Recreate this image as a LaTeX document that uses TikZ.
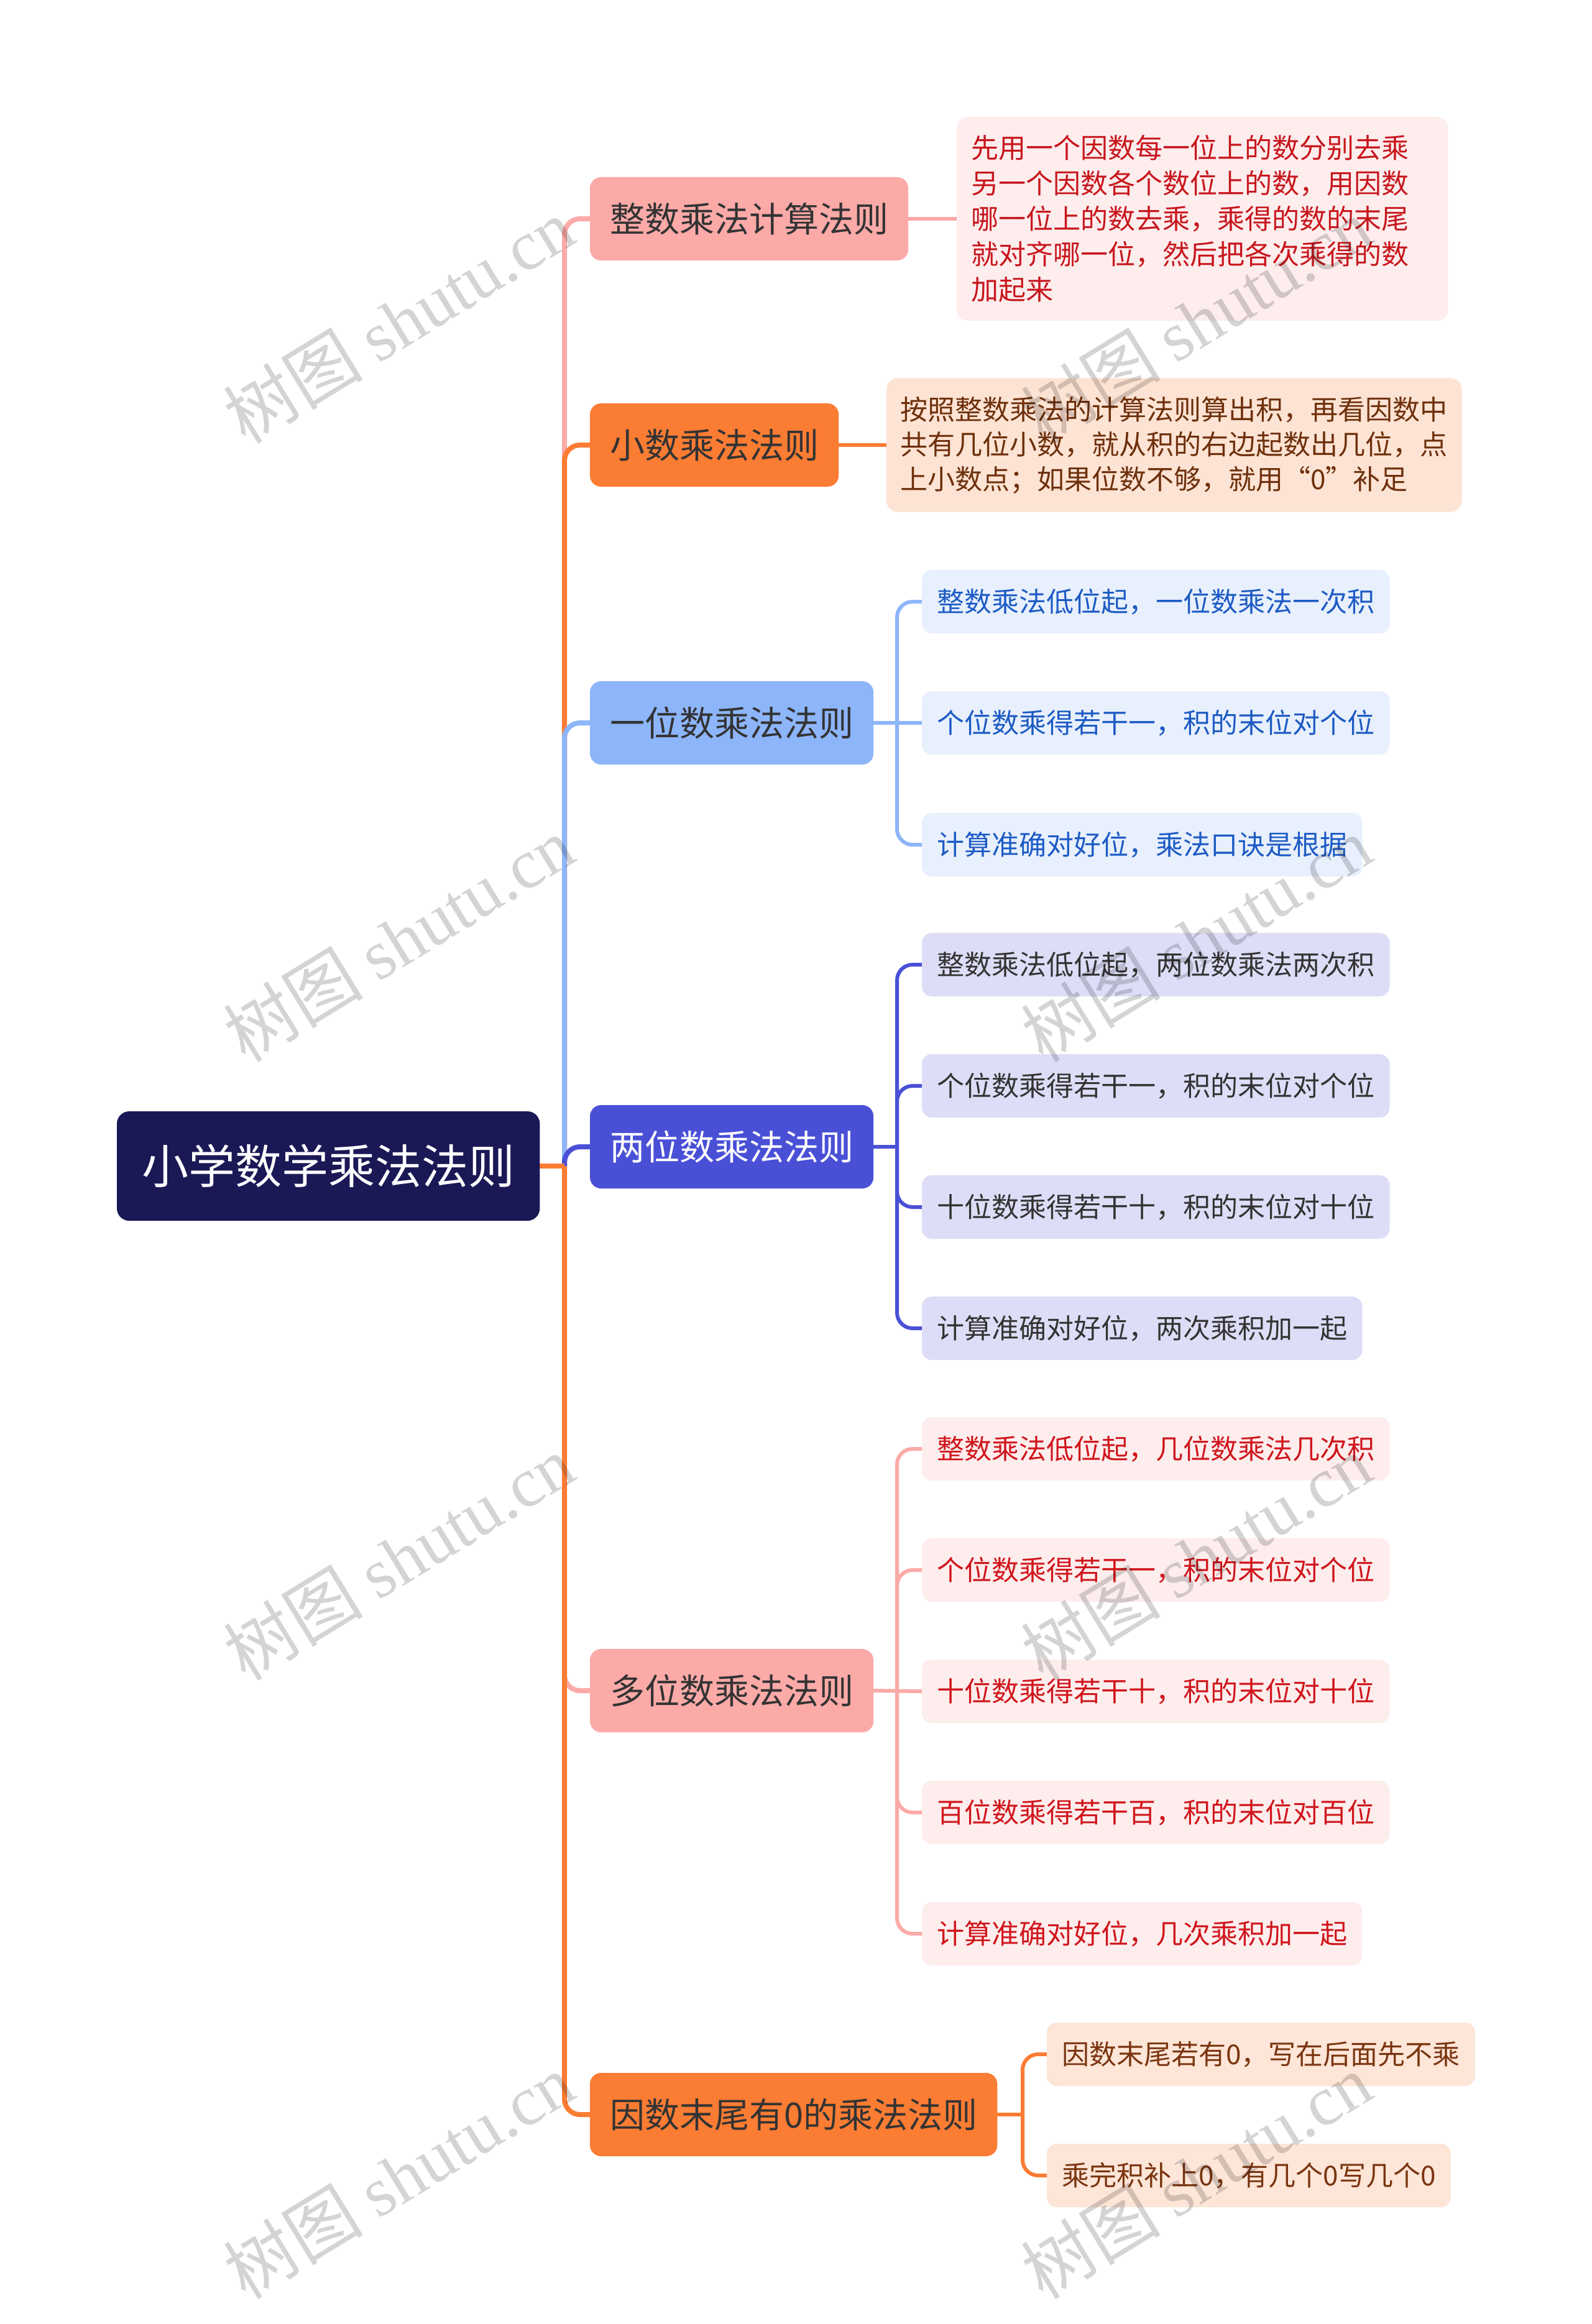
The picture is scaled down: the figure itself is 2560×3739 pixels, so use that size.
\documentclass[tikz,border=0pt]{standalone}
\usepackage{fontspec}
\setmainfont{Noto Sans CJK SC}
\newfontfamily\wmlatin{Liberation Serif}
\usetikzlibrary{backgrounds}
\definecolor{rootc}{HTML}{1B1856}
\definecolor{pinkc}{HTML}{FBAAA8}
\definecolor{orangec}{HTML}{FB7C33}
\definecolor{lbluec}{HTML}{8DB5FA}
\definecolor{indigoc}{HTML}{4A50D6}
\definecolor{darktxt}{HTML}{333333}
\definecolor{bleaffill}{HTML}{E8F0FD}
\definecolor{bleaftxt}{HTML}{1D5BC4}
\definecolor{ileaffill}{HTML}{DDDDF7}
\definecolor{pleaffill}{HTML}{FDEDED}
\definecolor{pleaftxt}{HTML}{D0161C}
\definecolor{oleaffill}{HTML}{FDE5D7}
\definecolor{oleaftxt}{HTML}{7A3510}
\definecolor{tbafill}{HTML}{FDEDED}
\definecolor{tbatxt}{HTML}{C8161D}
\definecolor{tbbfill}{HTML}{FDE3D3}
\definecolor{tbbtxt}{HTML}{6E300C}
\tikzset{
  rootbox/.style={anchor=west, fill=rootc, text=white, rounded corners=0.2cm,
    font=\fontsize{21.34pt}{25pt}\selectfont, minimum height=1.76cm, inner ysep=0pt,
    inner xsep=0.40cm, text height=0.66cm, text depth=0.09cm, outer sep=0pt},
  lonebox/.style={anchor=west, text=darktxt, rounded corners=0.18cm,
    font=\fontsize{15.93pt}{19pt}\selectfont, minimum height=1.34cm, inner ysep=0pt,
    inner xsep=0.32cm, text height=0.493cm, text depth=0.067cm, outer sep=0pt},
  leafbox/.style={anchor=west, rounded corners=0.16cm,
    font=\fontsize{12.52pt}{15pt}\selectfont, minimum height=1.02cm, inner ysep=0pt,
    inner xsep=0.24cm, text height=0.387cm, text depth=0.053cm, outer sep=0pt},
  bleaf/.style={leafbox, fill=bleaffill, text=bleaftxt},
  ileaf/.style={leafbox, fill=ileaffill, text=darktxt},
  pleaf/.style={leafbox, fill=pleaffill, text=pleaftxt},
  oleaf/.style={leafbox, fill=oleaffill, text=oleaftxt},
  textbox/.style={anchor=west, rounded corners=0.18cm, align=left, inner ysep=0pt, outer sep=0pt},
  trunk/.style={line width=0.08cm, rounded corners=0.25cm},
  leafline/.style={line width=0.06cm, rounded corners=0.25cm},
  wmark/.style={rotate=31.5, text=black, text opacity=0.17,
    font=\fontsize{32pt}{32pt}\selectfont, inner sep=0pt}
}
\begin{document}
\begin{tikzpicture}[x=0.01cm,y=-0.01cm]
\useasboundingbox (0,0) rectangle (2560,3739);

% root and level-1 nodes
\node[rootbox] (root) at (188,1876) {小学数学乘法法则};
\node[lonebox, fill=pinkc] (A) at (949,352) {整数乘法计算法则};
\node[lonebox, fill=orangec] (B) at (949,716) {小数乘法法则};
\node[lonebox, fill=lbluec] (C) at (949,1163) {一位数乘法法则};
\node[lonebox, fill=indigoc, text=white] (D) at (949,1845) {两位数乘法法则};
\node[lonebox, fill=pinkc] (E) at (949,2720) {多位数乘法法则};
\node[lonebox, fill=orangec] (F) at (949,3402) {因数末尾有0的乘法法则};

% text boxes
\node[textbox, fill=tbafill, text=tbatxt, inner xsep=0.23cm, text width=7.44cm,
  minimum height=3.28cm, font=\fontsize{12.52pt}{16.22pt}\selectfont] (A1) at (1539,352)
  {先用一个因数每一位上的数分别去乘\\另一个因数各个数位上的数，用因数\\哪一位上的数去乘，乘得的数的末尾\\就对齐哪一位，然后把各次乘得的数\\加起来};
\node[textbox, fill=tbbfill, text=tbbtxt, inner xsep=0.22cm, text width=8.81cm,
  minimum height=2.15cm, font=\fontsize{12.52pt}{15.93pt}\selectfont] (B1) at (1426,716)
  {按照整数乘法的计算法则算出积，再看因数中\\共有几位小数，就从积的右边起数出几位，点\\上小数点；如果位数不够，就用“0”补足};

% leaves
\node[bleaf] (C1) at (1483,968) {整数乘法低位起，一位数乘法一次积};
\node[bleaf] (C2) at (1483,1163) {个位数乘得若干一，积的末位对个位};
\node[bleaf] (C3) at (1483,1359) {计算准确对好位，乘法口诀是根据};

\node[ileaf] (D1) at (1483,1552) {整数乘法低位起，两位数乘法两次积};
\node[ileaf] (D2) at (1483,1747) {个位数乘得若干一，积的末位对个位};
\node[ileaf] (D3) at (1483,1942) {十位数乘得若干十，积的末位对十位};
\node[ileaf] (D4) at (1483,2137) {计算准确对好位，两次乘积加一起};

\node[pleaf] (E1) at (1483,2331) {整数乘法低位起，几位数乘法几次积};
\node[pleaf] (E2) at (1483,2526) {个位数乘得若干一，积的末位对个位};
\node[pleaf] (E3) at (1483,2721) {十位数乘得若干十，积的末位对十位};
\node[pleaf] (E4) at (1483,2916) {百位数乘得若干百，积的末位对百位};
\node[pleaf] (E5) at (1483,3111) {计算准确对好位，几次乘积加一起};

\node[oleaf] (F1) at (1684,3305) {因数末尾若有0，写在后面先不乘};
\node[oleaf] (F2) at (1684,3500) {乘完积补上0，有几个0写几个0};

\coordinate (J) at (908,1876);
\coordinate (bx) at (1443,0);
\coordinate (fx) at (1645,0);

\begin{scope}[on background layer]
\fill[white] (0,0) rectangle (2560,3739);
% trunk connectors
\draw[trunk, pinkc] (J) |- (A.west);
\draw[trunk, orangec] (J) |- (B.west);
\draw[trunk, lbluec] (J) |- (C.west);
\draw[trunk, indigoc] (J) |- (D.west);
\draw[trunk, pinkc] (J) |- (E.west);
\draw[trunk, orangec] (J) |- (F.west);
\draw[line width=0.08cm, orangec] (root.east) -- (J);

% single children
\draw[leafline, pinkc] (A.east) -- (A1.west);
\draw[leafline, orangec] (B.east) -- (B1.west);

% C branch
\coordinate (Ck) at (C.east -| bx);
\draw[leafline, lbluec] (C.east) -- (C2.west);
\draw[leafline, lbluec] (Ck) |- (C1.west);
\draw[leafline, lbluec] (Ck) |- (C3.west);

% D branch
\coordinate (Dk) at (D.east -| bx);
\draw[leafline, indigoc] (D.east) -- (Dk);
\draw[leafline, indigoc] (Dk) |- (D1.west);
\draw[leafline, indigoc] (Dk) |- (D2.west);
\draw[leafline, indigoc] (Dk) |- (D3.west);
\draw[leafline, indigoc] (Dk) |- (D4.west);

% E branch
\coordinate (Ek) at (E.east -| bx);
\draw[leafline, pinkc] (E.east) -- (E3.west);
\draw[leafline, pinkc] (Ek) |- (E1.west);
\draw[leafline, pinkc] (Ek) |- (E2.west);
\draw[leafline, pinkc] (Ek) |- (E4.west);
\draw[leafline, pinkc] (Ek) |- (E5.west);

% F branch
\coordinate (Fk) at (F.east -| fx);
\draw[leafline, orangec] (F.east) -- (Fk);
\draw[leafline, orangec] (Fk) |- (F1.west);
\draw[leafline, orangec] (Fk) |- (F2.west);
\end{scope}

% watermarks
\foreach \wy [count=\i] in {516,1511,2506,3501}{
  \node[wmark] (wl\i) at (641,\wy) {树图 {\wmlatin shutu.cn}};
  \node[wmark] (wr\i) at (1924,\wy) {树图 {\wmlatin shutu.cn}};
}
\end{tikzpicture}
\end{document}
